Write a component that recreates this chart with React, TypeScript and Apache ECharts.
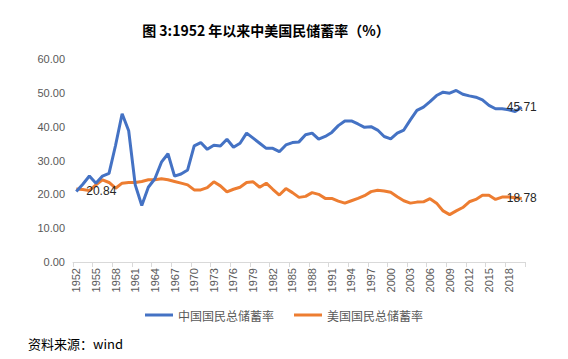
import React, { useEffect, useRef } from "react";
import * as echarts from "echarts";

const years: string[] = [];
for (let y = 1952; y <= 2020; y++) years.push(String(y));

const chinaRate = [
  20.84, 23.0, 25.4, 23.3, 25.4, 26.2, 34.5, 43.8, 38.8, 22.8,
  16.7, 22.1, 24.6, 29.5, 32.0, 25.4, 26.0, 27.2, 34.3, 35.3,
  33.3, 34.5, 34.3, 36.3, 33.9, 35.1, 38.1, 36.6, 35.1, 33.6,
  33.6, 32.6, 34.6, 35.3, 35.5, 37.6, 38.1, 36.3, 37.1, 38.3,
  40.3, 41.7, 41.7, 40.8, 39.8, 40.0, 39.0, 37.1, 36.4, 38.1,
  39.0, 42.0, 44.8, 45.8, 47.4, 49.2, 50.2, 49.9, 50.7, 49.6,
  49.1, 48.7, 47.9, 46.3, 45.3, 45.3, 45.0, 44.5, 45.71,
];

const usRate = [
  21.6, 21.4, 21.1, 22.8, 24.3, 23.5, 21.8, 23.3, 23.5, 23.5,
  23.8, 24.3, 24.3, 24.6, 24.3, 23.8, 23.3, 22.8, 21.3, 21.3,
  22.0, 23.7, 22.5, 20.7, 21.5, 22.1, 23.5, 23.7, 22.1, 23.3,
  21.5, 19.8, 21.7, 20.5, 19.1, 19.4, 20.5, 20.0, 18.8, 18.8,
  18.0, 17.4, 18.1, 18.8, 19.6, 20.8, 21.2, 21.0, 20.6, 19.3,
  18.1, 17.4, 17.7, 17.8, 18.7, 17.4, 15.1, 14.0, 15.1, 16.1,
  17.8, 18.5, 19.7, 19.7, 18.5, 19.2, 19.2, 19.0, 18.78,
];

const seriesNames = ["中国国民总储蓄率", "美国国民总储蓄率"];
const titleText = "图 3:1952 年以来中美国民储蓄率（%）";
const sourceText = "资料来源：wind";

function withLabels(values: number[], firstPos: string | null) {
  const last = values.length - 1;
  return values.map((v, i) => {
    if (i === 0 && firstPos) {
      return { value: v, label: { show: true, position: firstPos, distance: 10 } };
    }
    if (i === last) {
      return { value: v, label: { show: true, position: "inside" } };
    }
    return v;
  });
}

export default function App() {
  const ref = useRef<HTMLDivElement>(null);
  useEffect(() => {
    if (!ref.current) return;
    const chart = echarts.init(ref.current, null, { renderer: "svg" });
    const labelStyle = {
      show: false,
      color: "#262626",
      fontSize: 12,
      fontFamily: "Liberation Sans, Arial, sans-serif",
    };
    chart.setOption({
      animation: false,
      backgroundColor: "#ffffff",
      grid: { left: 73, right: 43, top: 59, bottom: 97, containLabel: false },
      graphic: [
        {
          type: "text",
          x: 266,
          y: 30,
          style: {
            text: titleText,
            fontSize: 14,
            fontWeight: "bold",
            fontFamily: "Noto Sans CJK SC",
            fill: "#000000",
            align: "center",
            verticalAlign: "middle",
          },
        },
        {
          type: "text",
          x: 28,
          y: 343,
          style: {
            text: sourceText,
            fontSize: 13,
            fontFamily: "Noto Sans CJK SC",
            fill: "#000000",
            align: "left",
            verticalAlign: "middle",
          },
        },
      ],
      legend: {
        data: seriesNames,
        top: 304,
        left: "center",
        icon: "rect",
        itemWidth: 28,
        itemHeight: 3,
        itemGap: 20,
        textStyle: { color: "#595959", fontSize: 12, fontFamily: "Noto Sans CJK SC" },
      },
      xAxis: {
        type: "category",
        data: years,
        boundaryGap: true,
        axisLine: { show: true, lineStyle: { color: "#d9d9d9", width: 1 } },
        axisTick: { show: true, interval: 2, length: 5, lineStyle: { color: "#d9d9d9" } },
        axisLabel: {
          interval: 2,
          rotate: 90,
          color: "#595959",
          fontSize: 11,
          fontFamily: "Liberation Sans, Arial, sans-serif",
          margin: 6,
        },
        splitLine: { show: false },
      },
      yAxis: {
        type: "value",
        min: 0,
        max: 60,
        interval: 10,
        axisLine: { show: false },
        axisTick: { show: false },
        splitLine: { show: false },
        axisLabel: {
          color: "#595959",
          fontSize: 11,
          fontFamily: "Liberation Sans, Arial, sans-serif",
          margin: 8,
          formatter: (v: number) => v.toFixed(2),
        },
      },
      series: [
        {
          name: seriesNames[0],
          type: "line",
          data: withLabels(chinaRate, "right"),
          showSymbol: true,
          symbol: "circle",
          symbolSize: 0,
          lineStyle: { color: "#4472C4", width: 3 },
          itemStyle: { color: "#4472C4" },
          label: labelStyle,
          z: 3,
        },
        {
          name: seriesNames[1],
          type: "line",
          data: withLabels(usRate, null),
          showSymbol: true,
          symbol: "circle",
          symbolSize: 0,
          lineStyle: { color: "#ED7D31", width: 3 },
          itemStyle: { color: "#ED7D31" },
          label: labelStyle,
          z: 2,
        },
      ],
    });
    return () => chart.dispose();
  }, []);
  return (
    <div
      ref={ref}
      style={{ position: "fixed", left: 0, top: 0, width: 568, height: 359 }}
    />
  );
}
